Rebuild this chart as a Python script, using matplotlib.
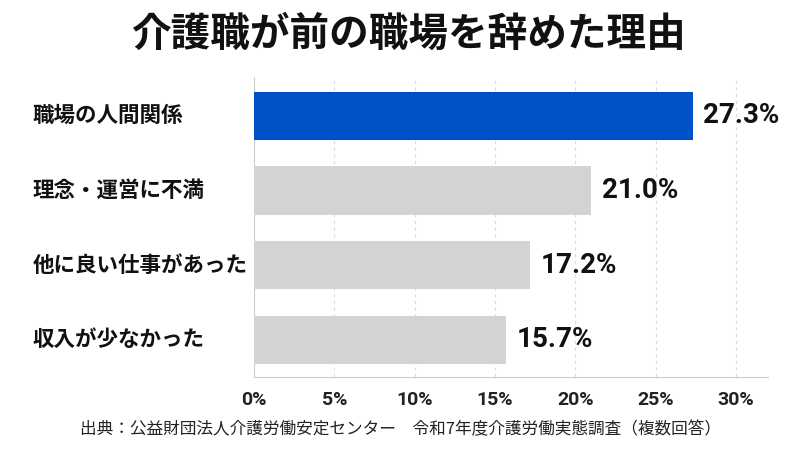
import matplotlib
matplotlib.use("Agg")
from matplotlib import pyplot as plt

# データ
categories = ["職場の人間関係", "理念・運営に不満", "他に良い仕事があった", "収入が少なかった"]
values = [27.3, 21.0, 17.2, 15.7]
ticks = [0, 5, 10, 15, 20, 25, 30]
tick_labels = ["0%", "5%", "10%", "15%", "20%", "25%", "30%"]
title = "介護職が前の職場を辞めた理由"
source = "出典：公益財団法人介護労働安定センター　令和7年度介護労働実態調査（複数回答）"

jp = ["Noto Sans CJK JP", "DejaVu Sans"]
num = ["Roboto", "DejaVu Sans"]
plt.rcParams['font.family'] = jp

fig = plt.figure(figsize=(8, 4.5), dpi=100)
ax = fig.add_axes([0.3175, 0.162, 0.6425, 0.667])

colors = ["#0050C8"] + ["#D3D3D3"] * (len(values) - 1)
ypos = list(range(len(values)))
ax.barh(ypos, values, height=0.65, color=colors, zorder=3)
ax.set_ylim(len(values) - 0.5, -0.52)
ax.set_xlim(0, 32)

# 値ラベル
for y, v in zip(ypos, values):
    ax.text(v + 0.65, y, f"{v:.1f}%", va="center", ha="left",
            fontsize=20, fontweight="bold", family=num, color="#111111")

# カテゴリ（左端揃え）
ax.set_yticks(ypos)
ax.set_yticklabels([])
for y, c in zip(ypos, categories):
    disp = ax.transData.transform((0, y))
    fy = fig.transFigure.inverted().transform(disp)[1]
    fig.text(0.041, fy, c, ha="left", va="center", fontsize=15.5,
             fontweight="bold", color="#111111")

ax.set_xticks(ticks)
ax.set_xticklabels(tick_labels, family=num, fontsize=14, fontweight="bold",
                   color="#222222")
ax.tick_params(axis="both", length=0)
ax.tick_params(axis="x", pad=10)

ax.grid(axis="x", linestyle=(0, (3, 3)), color="#DDDDDD", linewidth=0.8, zorder=0)
for s in ["top", "right"]:
    ax.spines[s].set_visible(False)
ax.spines["left"].set_color("#CCCCCC")
ax.spines["bottom"].set_color("#CCCCCC")

fig.text(0.51, 0.925, title, ha="center", va="center", fontsize=28.5,
         fontweight="bold", color="#111111")
fig.text(0.5, 0.045, source, ha="center", va="center", fontsize=12,
         color="#222222")

fig.savefig("out.png", dpi=100, facecolor="white")
